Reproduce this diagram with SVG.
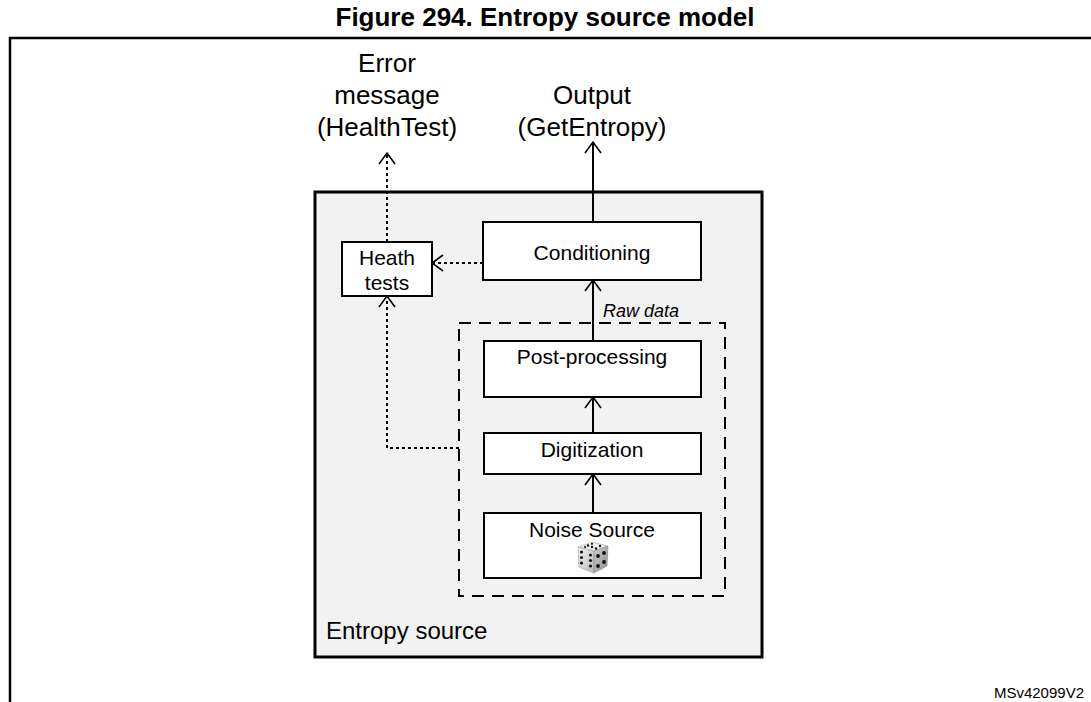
<svg xmlns="http://www.w3.org/2000/svg" width="1091" height="702" viewBox="0 0 1091 702">
<defs>
<style>
text{font-family:"Liberation Sans",Arial,sans-serif;fill:#000}
.box{fill:#fff;stroke:#000;stroke-width:2}
.lbl{font-size:21px;text-anchor:middle}
.big{font-size:26px;text-anchor:middle}
.solid{fill:none;stroke:#000;stroke-width:2}
.dot{fill:none;stroke:#000;stroke-width:2;stroke-dasharray:3 3}
</style>
<marker id="ah" markerUnits="userSpaceOnUse" markerWidth="24" markerHeight="24" viewBox="-12 -12 24 24" refX="0" refY="0" orient="auto">
<path d="M-11,-8 L0,0 L-11,8" fill="none" stroke="#000" stroke-width="1.6"/>
</marker>
<linearGradient id="gl" x1="0" y1="0" x2="1" y2="1"><stop offset="0" stop-color="#f4f4f4"/><stop offset="1" stop-color="#b8b8b8"/></linearGradient>
<linearGradient id="gr" x1="0" y1="0" x2="1" y2="1"><stop offset="0" stop-color="#d0d0d0"/><stop offset="1" stop-color="#8c8c8c"/></linearGradient>
</defs>
<rect width="1091" height="702" fill="#fff"/>
<text x="545" y="26" font-size="26" font-weight="bold" text-anchor="middle">Figure 294. Entropy source model</text>
<path d="M10,702 V38 H1091" fill="none" stroke="#000" stroke-width="2.5"/>
<text x="1084" y="698" font-size="15" text-anchor="end">MSv42099V2</text>

<g id="entropy-source">
<rect x="315" y="192" width="447" height="465" fill="#f2f2f2" stroke="#000" stroke-width="3"/>
<text x="326" y="639" font-size="24">Entropy source</text>
</g>
<g id="dashed-group">
<rect x="459" y="323" width="266" height="273" fill="none" stroke="#000" stroke-width="2" stroke-dasharray="12 8"/>
</g>
<g id="conditioning">
<rect class="box" x="483" y="222" width="218" height="58"/>
<text class="lbl" x="592" y="260">Conditioning</text>
</g>
<g id="health-tests">
<rect class="box" x="342" y="242" width="90" height="54"/>
<text class="lbl" x="387" y="265">Heath</text>
<text class="lbl" x="387" y="290">tests</text>
</g>
<g id="post-processing">
<rect class="box" x="484" y="341" width="217" height="56"/>
<text class="lbl" x="592" y="364">Post-processing</text>
</g>
<g id="digitization">
<rect class="box" x="484" y="433" width="217" height="41"/>
<text class="lbl" x="592" y="457">Digitization</text>
</g>
<g id="noise-source">
<rect class="box" x="484" y="513" width="217" height="65"/>
<text class="lbl" x="592" y="537">Noise Source</text>
<g id="dice">
<path d="M578,547 L592,542 L608,546 L594,551 Z" fill="#f0f0f0" stroke="#aaa" stroke-width="0.6"/>
<path d="M578,547 L594,551 L594,573 L579,567 Z" fill="url(#gl)" stroke="#999" stroke-width="0.6"/>
<path d="M594,551 L608,546 L607,566 L594,573 Z" fill="url(#gr)" stroke="#888" stroke-width="0.6"/>
<g fill="#111">
<circle cx="588" cy="545.5" r="1.2"/><circle cx="592" cy="547" r="1.2"/><circle cx="596" cy="548.5" r="1.2"/><circle cx="592" cy="543.8" r="1.1"/><circle cx="600" cy="546" r="1.2"/><circle cx="585" cy="547" r="1.1"/>
<circle cx="581.5" cy="552" r="1.6"/><circle cx="581.5" cy="557.5" r="1.6"/><circle cx="581.5" cy="563" r="1.6"/><circle cx="590.5" cy="555" r="1.6"/><circle cx="590.5" cy="560.5" r="1.6"/><circle cx="590.5" cy="566" r="1.6"/>
<circle cx="598" cy="556" r="1.9"/><circle cx="604" cy="553" r="1.9"/><circle cx="598" cy="566" r="1.9"/><circle cx="604" cy="562" r="1.9"/>
</g>
</g>
</g>
<g id="labels">
<text class="big" x="387" y="72">Error</text>
<text class="big" x="387" y="104">message</text>
<text class="big" x="387" y="136">(HealthTest)</text>
<text class="big" x="592" y="104">Output</text>
<text class="big" x="592" y="136">(GetEntropy)</text>
<text x="603" y="317" font-size="18" font-style="italic">Raw data</text>
</g>
<g id="connectors">
<line class="solid" x1="593" y1="222" x2="593" y2="142" marker-end="url(#ah)"/>
<line class="solid" x1="593" y1="341" x2="593" y2="280" marker-end="url(#ah)"/>
<line class="solid" x1="593" y1="433" x2="593" y2="397" marker-end="url(#ah)"/>
<line class="solid" x1="593" y1="513" x2="593" y2="474" marker-end="url(#ah)"/>
<line class="dot" x1="483" y1="263" x2="432" y2="263" marker-end="url(#ah)"/>
<line class="dot" x1="387" y1="242" x2="387" y2="153" marker-end="url(#ah)"/>
<path class="dot" d="M459,448 H387 V296" marker-end="url(#ah)"/>
</g>
</svg>
